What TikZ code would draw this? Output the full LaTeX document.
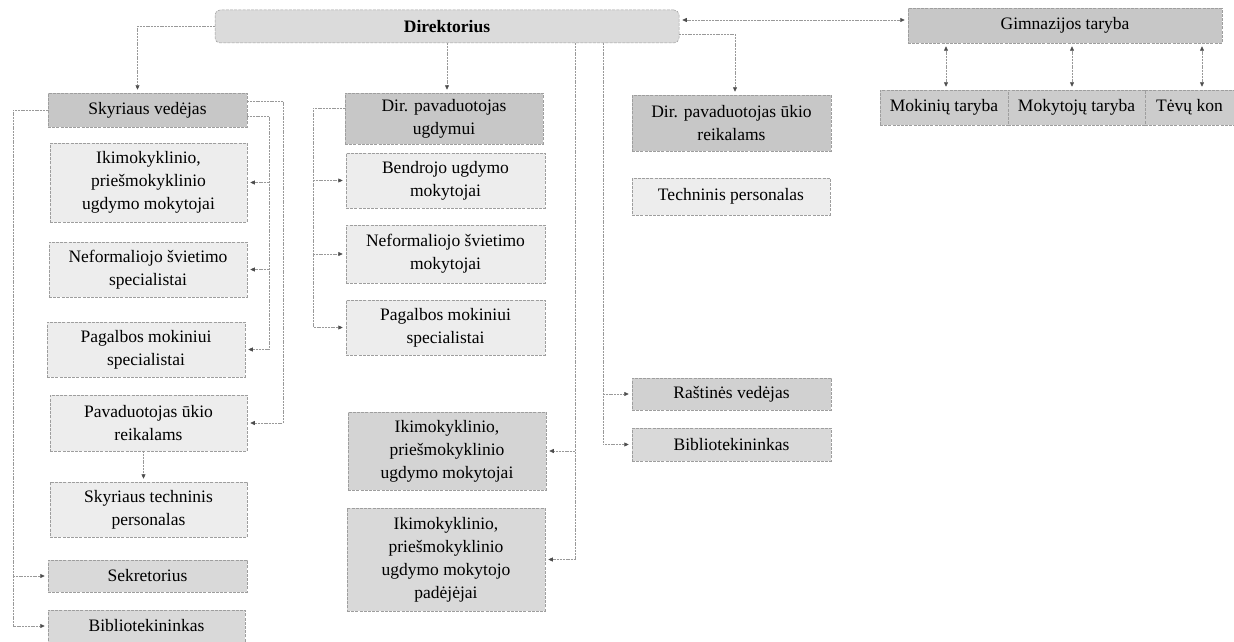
\documentclass[tikz,border=0pt]{standalone}
\usepackage{fontspec}
\setmainfont{Liberation Serif}
\usetikzlibrary{arrows.meta}
\begin{document}
\begin{tikzpicture}[x=1pt,y=-1pt,
  box/.style={draw=black!38, dash pattern=on 3pt off 1.2pt, line width=0.5pt,
    align=center, inner sep=0pt, font=\fontsize{17.5}{23}\selectfont},
  dk/.style={box, fill=black!22},
  md/.style={box, fill=black!15},
  lt/.style={box, fill=black!7},
  conn/.style={draw=black!40, line width=0.6pt, dash pattern=on 2pt off 0.8pt},
  tip/.style={-{Triangle[length=4.5pt,width=4pt,color=black!70,fill=black!70]}, shorten >=3pt},
  tips/.style={{Triangle[length=4.5pt,width=4pt,color=black!70,fill=black!70]}-{Triangle[length=4.5pt,width=4pt,color=black!70,fill=black!70]}, shorten >=3pt, shorten <=3pt}
]
\useasboundingbox (0,0) rectangle (1234,642);
\begin{scope}
\clip (0,0) rectangle (1234,642);
% top
\node[md, fill=black!14, rounded corners=5pt, minimum width=464pt, minimum height=33pt, font=\fontsize{17.5}{23}\selectfont\bfseries] (dir) at (447,26.5) {Direktorius};
\node[dk, minimum width=314pt, minimum height=35pt] (gim) at (1065,25.5) {Gimnazijos taryba};
\node[dk, fill=black!20, minimum width=128pt, minimum height=35pt] (mok) at (944,107.5) {Mokinių taryba};
\node[dk, fill=black!20, minimum width=137pt, minimum height=35pt] (mkt) at (1076.5,107.5) {Mokytojų taryba};
\node[dk, fill=black!20, minimum width=89pt, minimum height=35pt] (tev) at (1189.5,107.5) {Tėvų kon};
% left column
\node[dk, minimum width=199pt, minimum height=34pt] (sky) at (147.5,110) {Skyriaus vedėjas};
\node[lt, minimum width=197pt, minimum height=79pt] (ik1) at (148.5,182.5) {Ikimokyklinio,\\priešmokyklinio\\ugdymo mokytojai};
\node[lt, minimum width=198pt, minimum height=55pt] (nef1) at (148,269.5) {Neformaliojo švietimo\\specialistai};
\node[lt, minimum width=198pt, minimum height=55pt] (pag1) at (146,349.5) {Pagalbos mokiniui\\specialistai};
\node[lt, minimum width=197pt, minimum height=56pt] (pav1) at (148.5,423) {Pavaduotojas ūkio\\reikalams};
\node[lt, minimum width=197pt, minimum height=55pt] (tech1) at (148.5,509.5) {Skyriaus techninis\\personalas};
\node[md, minimum width=199pt, minimum height=32pt] (sek) at (147.5,576) {Sekretorius};
\node[md, minimum width=197pt, minimum height=32pt] (bib1) at (146.5,626) {Bibliotekininkas};
% middle column
\node[dk, minimum width=198pt, minimum height=51pt] (dpu) at (444,118.5) {Dir. pavaduotojas\\ugdymui};
\node[lt, minimum width=199pt, minimum height=55pt] (ben) at (445.5,180.5) {Bendrojo ugdymo\\mokytojai};
\node[lt, minimum width=199pt, minimum height=58pt] (nef2) at (445.5,254) {Neformaliojo švietimo\\mokytojai};
\node[lt, minimum width=199pt, minimum height=55pt] (pag2) at (445.5,327.5) {Pagalbos mokiniui\\specialistai};
\node[md, fill=black!17, minimum width=198pt, minimum height=78pt] (ik2) at (447,451) {Ikimokyklinio,\\priešmokyklinio\\ugdymo mokytojai};
\node[md, minimum width=198pt, minimum height=103pt] (ikp) at (446,559.5) {Ikimokyklinio,\\priešmokyklinio\\ugdymo mokytojo\\padėjėjai};
% right column
\node[dk, minimum width=199pt, minimum height=56pt] (dpuk) at (731.5,123) {Dir. pavaduotojas ūkio\\reikalams};
\node[lt, minimum width=198pt, minimum height=37pt] (tp) at (731,196.5) {Techninis personalas};
\node[md, fill=black!18, minimum width=199pt, minimum height=32pt] (ras) at (731.5,394) {Raštinės vedėjas};
\node[md, minimum width=199pt, minimum height=33pt] (bib2) at (731.5,444.5) {Bibliotekininkas};
% helper coordinates
\coordinate (L) at (13,0);
\coordinate (R1) at (283,0);
\coordinate (R2) at (269,0);
\coordinate (M0) at (313,0);
\coordinate (M1) at (575,0);
\coordinate (M2) at (603,0);
\coordinate (T20) at (0,20);
% connectors from Direktorius
\draw[conn,tip] (dir.west) -| ([xshift=-10pt]sky.north);
\draw[conn,tip] (dir.south) -- (dir.south |- dpu.north);
\draw[conn,tip] ([yshift=-7.5pt]dir.east) -| ([xshift=3.5pt]dpuk.north);
\draw[conn,tips] (dir.east |- T20) -- (gim.west |- T20);
\draw[conn,tips] ([xshift=2pt]gim.south -| mok.north) -- ([xshift=2pt]mok.north);
\draw[conn,tips] ([xshift=-4.5pt]gim.south -| mkt.north) -- ([xshift=-4.5pt]mkt.north);
\draw[conn,tips] ([xshift=12.5pt]gim.south -| tev.north) -- ([xshift=12.5pt]tev.north);
% left column connectors
\draw[conn,tip] (sky.west) -- (L |- sky.west) -- (L |- bib1.west) -- (bib1.west);
\draw[conn,tip] (L |- sek.west) -- (sek.west);
\draw[conn,tip] ([yshift=9pt]sky.east) -- ([yshift=9pt]R1 |- sky.east) -- (R1 |- pav1.east) -- (pav1.east);
\draw[conn,tip] ([yshift=-6pt]sky.east) -- ([yshift=-6pt]R2 |- sky.east) -- (R2 |- pag1.east) -- (pag1.east);
\draw[conn,tip] (R2 |- ik1.east) -- (ik1.east);
\draw[conn,tip] (R2 |- nef1.east) -- (nef1.east);
\draw[conn,tip] ([xshift=-5pt]pav1.south) -- ([xshift=-5pt]tech1.north);
% middle column connectors
\draw[conn,tip] ([yshift=10.5pt]dpu.west) -- ([yshift=10.5pt]M0 |- dpu.west) -- (M0 |- pag2.west) -- (pag2.west);
\draw[conn,tip] (M0 |- ben.west) -- (ben.west);
\draw[conn,tip] (M0 |- nef2.west) -- (nef2.west);
\draw[conn,tip] (M1 |- dir.south) -- (M1 |- ikp.east) -- (ikp.east);
\draw[conn,tip] (M1 |- ik2.east) -- (ik2.east);
% right column connectors
\draw[conn,tip] (M2 |- dir.south) -- (M2 |- bib2.west) -- (bib2.west);
\draw[conn,tip] (M2 |- ras.west) -- (ras.west);
\end{scope}
\end{tikzpicture}
\end{document}
